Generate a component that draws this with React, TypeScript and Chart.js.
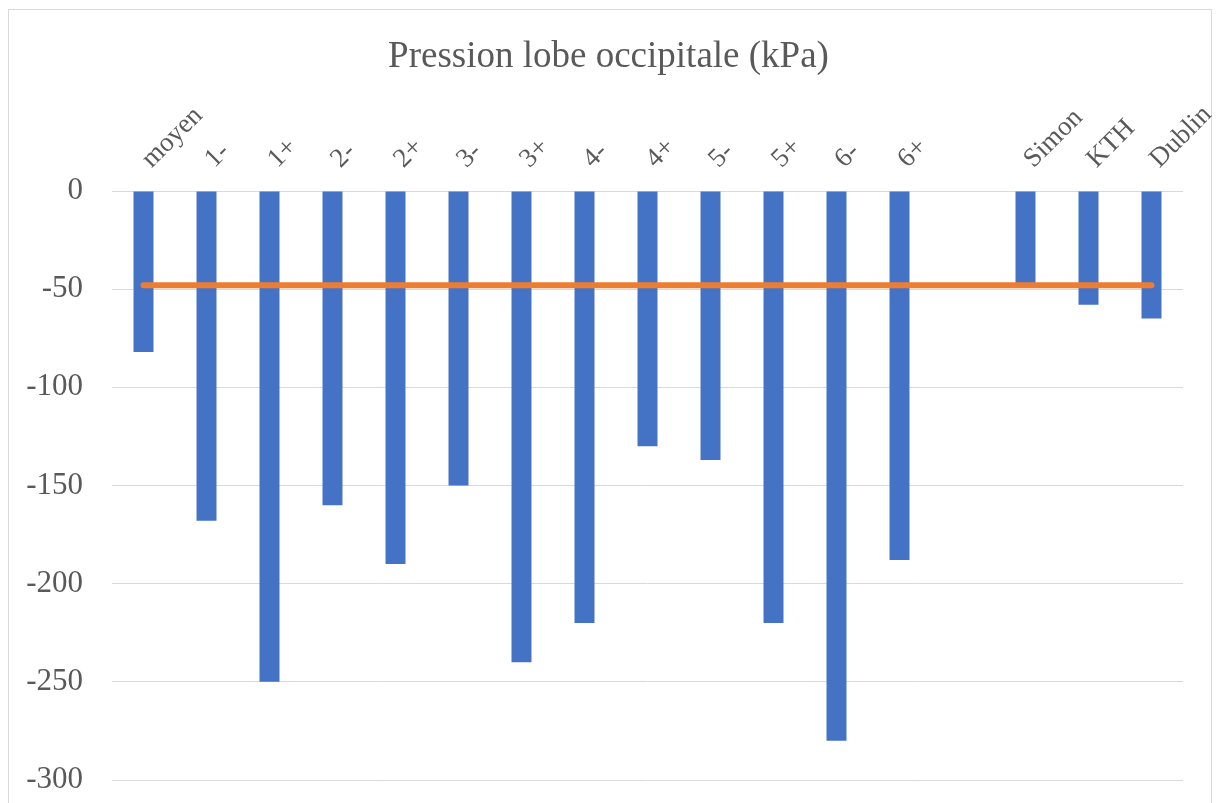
import React, { useEffect, useRef } from "react";
import { Chart, registerables } from "chart.js";

Chart.register(...registerables);

const categories = ["moyen", "1-", "1+", "2-", "2+", "3-", "3+", "4-", "4+", "5-", "5+", "6-", "6+", "", "Simon", "KTH", "Dublin"];
const pressureValues = [-82, -168, -250, -160, -190, -150, -240, -220, -130, -137, -220, -280, -188, null, -47, -58, -65];
const referenceLine = [-48, -48, -48, -48, -48, -48, -48, -48, -48, -48, -48, -48, -48, -48, -48, -48, -48];
const yTicks = [0, -50, -100, -150, -200, -250, -300];
const chartTitle = "Pression lobe occipitale (kPa)";

const FONT = "'Liberation Serif', 'Times New Roman', serif";
const TEXT = "#595959";
const TITLE_SIZE = 37;
const TITLE_TOP = 35;

const titlePlugin = {
  id: "centeredTitle",
  afterDraw(chart: any) {
    const ctx = chart.ctx;
    ctx.save();
    ctx.font = `normal ${TITLE_SIZE}px ${FONT}`;
    ctx.fillStyle = TEXT;
    ctx.textAlign = "center";
    ctx.textBaseline = "middle";
    ctx.fillText(chartTitle, 608.5, TITLE_TOP + (TITLE_SIZE * 1.2) / 2);
    ctx.restore();
  },
};

export default function App() {
  const canvasRef = useRef<HTMLCanvasElement | null>(null);

  useEffect(() => {
    const canvas = canvasRef.current;
    if (!canvas) return;
    const chart = new Chart(canvas, {
      data: {
        labels: categories,
        datasets: [
          {
            type: "line",
            label: "ref",
            data: referenceLine,
            borderColor: "#ED7D31",
            backgroundColor: "#ED7D31",
            borderWidth: 6,
            borderCapStyle: "round",
            pointRadius: 0,
            tension: 0,
            order: 0,
          },
          {
            type: "bar",
            label: "pression",
            data: pressureValues,
            backgroundColor: "#4472C4",
            borderWidth: 0,
            barPercentage: 0.317,
            categoryPercentage: 1,
            order: 1,
          },
        ],
      },
      options: {
        animation: false,
        responsive: false,
        maintainAspectRatio: false,
        layout: { padding: { left: 0, right: 29, top: TITLE_TOP + TITLE_SIZE * 1.2, bottom: 23 } },
        plugins: {
          legend: { display: false },
          tooltip: { enabled: false },
          title: { display: false },
        },
        scales: {
          x: {
            position: "top",
            offset: true,
            grid: { display: false, drawTicks: false },
            border: { display: false },
            ticks: {
              color: TEXT,
              font: { family: FONT, size: 27 },
              maxRotation: 45,
              minRotation: 45,
              autoSkip: false,
              padding: 16,
              labelOffset: 26,
            },
            afterFit: (scale: any) => {
              scale.height = 191 - (TITLE_TOP + TITLE_SIZE * 1.2);
              scale.paddingLeft = 0;
              scale.paddingRight = 0;
            },
          },
          y: {
            min: -300,
            max: 0,
            afterBuildTicks: (scale: any) => {
              scale.ticks = yTicks.map((v) => ({ value: v }));
            },
            grid: { color: "#D9D9D9", lineWidth: 1, drawTicks: false },
            border: { display: false },
            ticks: {
              color: TEXT,
              font: { family: FONT, size: 31 },
              padding: 29,
            },
            afterFit: (scale: any) => {
              scale.width = 112;
              scale.paddingTop = 0;
              scale.paddingBottom = 0;
            },
          },
        },
      },
      plugins: [titlePlugin],
    });
    return () => chart.destroy();
  }, []);

  return (
    <div style={{ position: "absolute", left: 0, top: 0, width: 1216, height: 803, overflow: "hidden", background: "#fff" }}>
      <div
        style={{
          position: "absolute",
          left: 8,
          top: 9,
          width: 1204,
          height: 800,
          border: "1px solid #D9D9D9",
          boxSizing: "border-box",
        }}
      />
      <canvas ref={canvasRef} width={1212} height={803} style={{ position: "absolute", left: 0, top: 0, width: 1212, height: 803 }} />
    </div>
  );
}
